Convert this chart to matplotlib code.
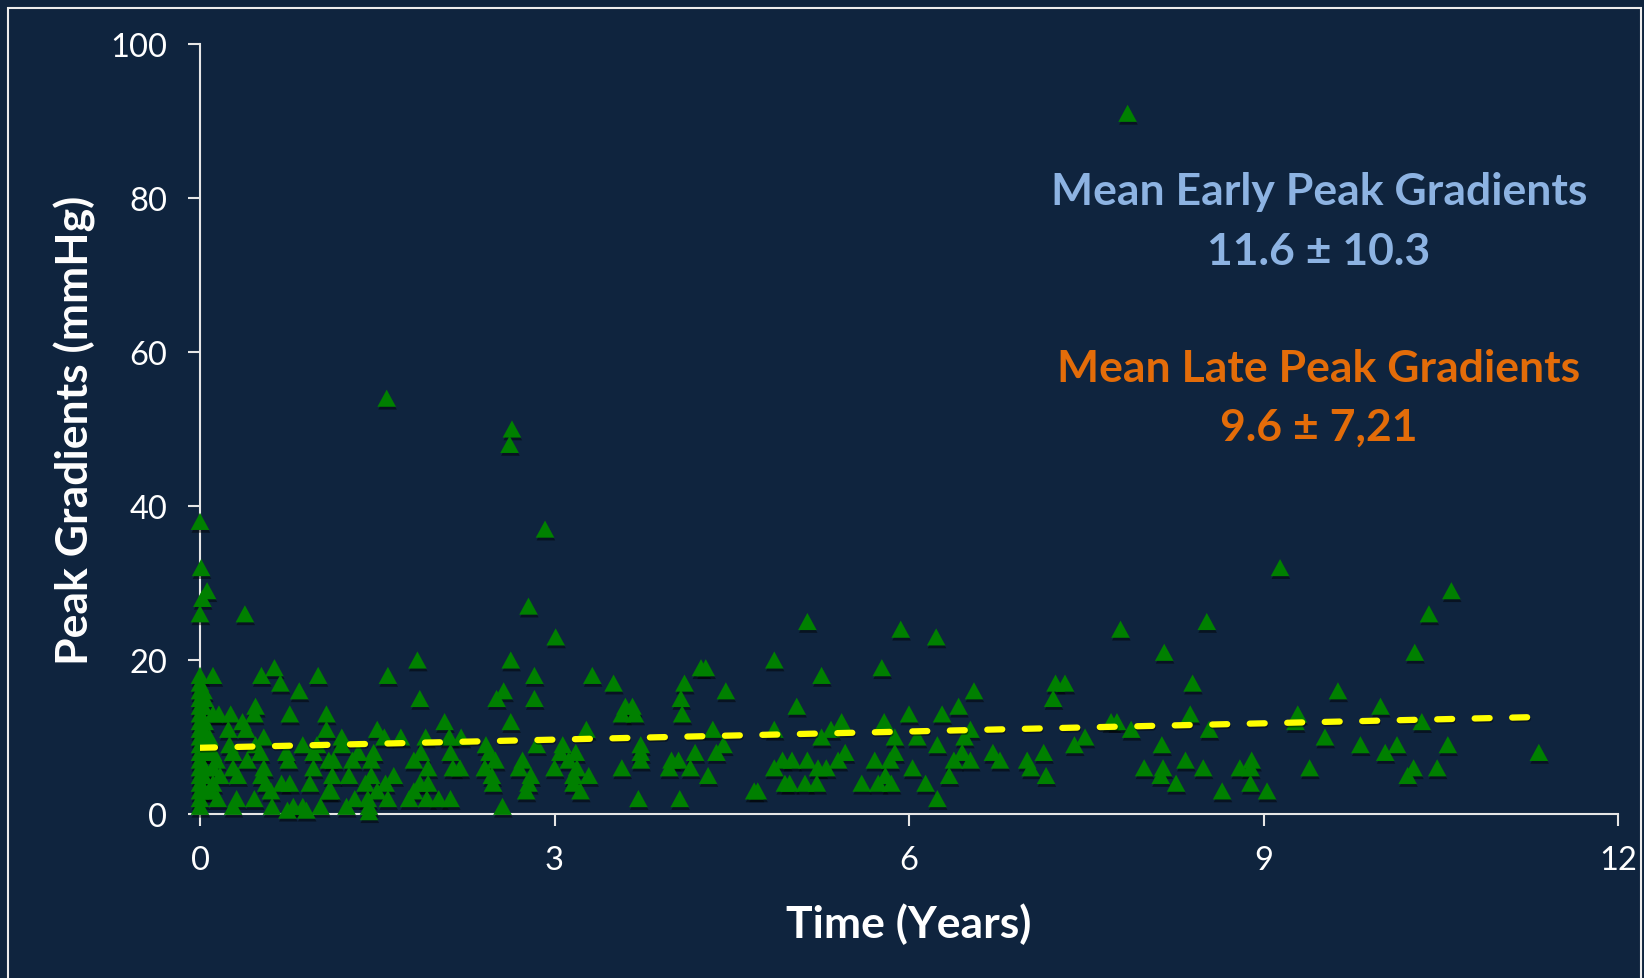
import matplotlib
matplotlib.use("Agg")
import matplotlib.pyplot as plt
import matplotlib.patheffects as pe
from matplotlib.patches import Rectangle
from matplotlib.path import Path

# Follow-up measurements: time since implant (years) and peak gradient (mmHg)
years_baseline = [0.0, 0.01, 0.06, 0.02, 0.0, 0.0, 0.0, 0.0, 0.0, 0.0, 0.0, 0.0,
                  0.0, 0.0, 0.0, 0.0, 0.0, 0.0, 0.0, 0.0, 0.0, 0.0, 0.0,
                  0.03, 0.04, 0.03, 0.04, 0.03, 0.04, 0.03, 0.04, 0.03, 0.04]
grad_baseline = [38, 32, 29, 28, 26, 18, 17, 16, 15, 14, 13, 12,
                 11, 10, 9, 8, 7, 6, 5, 4, 3, 2, 1,
                 16, 15, 14, 12, 11, 9, 8, 6, 5, 3]

years_first = [0.38, 0.63, 0.11, 0.52, 1.00, 0.68, 0.84, 0.47, 0.76, 1.07, 0.11, 0.16,
               0.26, 0.46, 0.36, 1.07, 0.24, 0.39, 0.54, 0.08, 0.87, 0.99, 0.25, 0.47,
               0.73, 0.96, 0.28, 0.51, 0.11, 0.75, 1.09, 0.14, 0.40, 0.54, 0.96, 0.11,
               0.28, 0.17, 0.32, 0.52, 0.56, 0.69, 0.76, 0.93, 0.11, 0.10, 0.15, 0.31,
               0.46, 1.09, 0.60, 0.28, 0.61, 0.74, 0.79, 0.87, 0.90, 1.02]
grad_first = [26, 19, 18, 18, 18, 17, 16, 14, 13, 13, 13, 13,
              13, 13, 12, 11, 11, 11, 10, 10, 9, 9, 9, 9,
              8, 8, 8, 8, 8, 7, 7, 7, 7, 6, 6, 6,
              6, 5, 5, 5, 4, 4, 4, 4, 4, 3, 2, 2,
              2, 3, 3, 1, 1, 0.5, 1, 1, 0.5, 1]

years_second = [2.78, 1.84, 2.63, 1.59, 2.83, 1.86, 2.57, 2.51, 2.83, 2.63, 2.07, 1.50,
                1.70, 1.20, 1.56, 1.91, 2.11, 2.21, 2.42, 2.85, 1.20, 1.47, 1.34, 1.87,
                2.12, 2.45, 1.13, 1.29, 1.45, 1.81, 2.14, 2.20, 2.50, 2.73, 1.93, 1.12,
                1.26, 1.45, 1.64, 2.41, 2.47, 2.70, 2.80, 1.40, 1.57, 1.86, 1.93, 2.48,
                2.78, 1.11, 1.50, 1.81, 2.76, 1.31, 1.42, 1.59, 1.77, 1.92, 2.02, 2.12,
                1.24, 1.43, 1.43, 2.56, 1.58, 2.64, 2.62, 2.92]
grad_second = [27, 20, 20, 18, 18, 15, 16, 15, 15, 12, 12, 11,
               10, 10, 10, 10, 10, 10, 9, 9, 9, 8, 8, 8,
               8, 8, 7, 7, 7, 7, 6, 6, 7, 7, 6, 5,
               5, 5, 5, 6, 5, 6, 5, 4, 4, 4, 4, 4,
               4, 3, 3, 3, 3, 2, 2, 2, 2, 2, 2, 2,
               1, 1, 0.3, 1, 54, 50, 48, 37]

years_third = [3.01, 4.86, 4.24, 4.28, 3.32, 3.50, 4.10, 4.45, 4.07, 4.08, 3.60, 3.66,
               3.57, 3.68, 3.27, 4.34, 4.86, 3.07, 3.73, 4.43, 3.05, 3.18, 3.73, 3.99,
               4.05, 4.19, 4.37, 4.93, 3.12, 3.73, 3.00, 3.19, 3.57, 3.97, 4.15, 4.86,
               3.16, 3.29, 4.30, 3.16, 4.95, 3.22, 4.69, 4.72, 3.71, 4.06]
grad_third = [23, 20, 19, 19, 18, 17, 17, 16, 15, 13, 14, 14,
              13, 13, 11, 11, 11, 9, 9, 9, 8, 8, 8, 7,
              7, 8, 8, 7, 7, 7, 6, 6, 6, 6, 6, 6,
              5, 5, 5, 4, 4, 3, 3, 3, 2, 2]

years_fourth = [5.14, 5.93, 6.23, 5.77, 5.26, 5.05, 6.55, 6.42, 6.00, 6.28, 5.43, 5.79,
                5.34, 6.52, 5.26, 5.88, 6.07, 6.47, 6.24, 5.46, 5.88, 6.45, 6.71, 5.01,
                5.14, 5.40, 5.71, 5.84, 6.38, 6.52, 6.77, 7.00, 5.23, 5.30, 6.03, 7.03,
                5.80, 6.34, 4.99, 5.12, 5.22, 5.60, 5.74, 5.85, 6.14, 6.24]
grad_fourth = [25, 24, 23, 19, 18, 14, 16, 14, 13, 13, 12, 12,
               11, 11, 10, 10, 10, 10, 9, 8, 8, 8, 8, 7,
               7, 7, 7, 7, 7, 7, 7, 7, 6, 6, 6, 6,
               5, 5, 4, 4, 4, 4, 4, 4, 4, 2]

years_fifth = [7.85, 9.14, 8.52, 7.79, 8.16, 7.24, 7.32, 7.22, 8.40, 8.38, 7.71, 7.76,
               7.88, 8.54, 7.49, 7.40, 7.14, 8.14, 7.16, 7.99, 8.15, 8.13, 8.34, 8.49,
               8.26, 8.65, 8.80, 8.90, 8.89, 8.89, 9.03]
grad_fifth = [91, 32, 25, 24, 21, 17, 17, 15, 17, 13, 12, 12,
              11, 11, 10, 9, 8, 9, 5, 6, 6, 5, 7, 6,
              4, 3, 6, 7, 6, 4, 3]

years_late = [10.59, 10.40, 10.28, 9.63, 9.99, 9.29, 9.27, 10.34, 9.52, 9.82, 10.13, 10.56,
              10.03, 11.33, 9.39, 10.27, 10.47, 10.22]
grad_late = [29, 26, 21, 16, 14, 13, 12, 12, 10, 9, 9, 9,
             8, 8, 6, 6, 6, 5]

years = (years_baseline + years_first + years_second + years_third
         + years_fourth + years_fifth + years_late)
gradients = (grad_baseline + grad_first + grad_second + grad_third
             + grad_fourth + grad_fifth + grad_late)

# Linear trend of peak gradient over time
trend_years = [0.0, 11.33]
trend_gradients = [8.6, 12.6]

x_ticks = [0, 3, 6, 9, 12]
y_ticks = [0, 20, 40, 60, 80, 100]

early_title = "Mean Early Peak Gradients"
early_value = "11.6 ± 10.3"
late_title = "Mean Late Peak Gradients"
late_value = "9.6 ± 7,21"

BG = "#0F243E"
FONT = ["Lato", "DejaVu Sans"]

plt.rcParams["font.family"] = FONT

fig = plt.figure(figsize=(16.44, 9.79), dpi=100)
fig.patch.set_facecolor(BG)
ax = fig.add_axes([200 / 1644, 164 / 979, 1418 / 1644, 770 / 979])
ax.set_facecolor(BG)

# slightly flattened triangle marker
tri = Path([(0, 0.92), (-1, -0.92), (1, -0.92), (0, 0.92)],
           [Path.MOVETO, Path.LINETO, Path.LINETO, Path.CLOSEPOLY])

shadow = [pe.SimplePatchShadow(offset=(0.6, -2.0), shadow_rgbFace="black", alpha=0.45),
          pe.Normal()]

sc = ax.scatter(years, gradients, marker=tri, s=180, color="#008000",
                linewidths=0, zorder=3, clip_on=False)
sc.set_path_effects(shadow)

line, = ax.plot(trend_years, trend_gradients, color="#FFFF00", lw=4.5,
                dashes=(2.4, 3.6), dash_capstyle="round", zorder=4)
line.set_path_effects([pe.SimpleLineShadow(offset=(0.5, -1.2), shadow_color="black", alpha=0.4),
                       pe.Normal()])

ax.set_xlim(0, 12)
ax.set_ylim(0, 100)
ax.set_xticks(x_ticks)
ax.set_yticks(y_ticks)
ax.set_xticklabels([str(v) for v in x_ticks])
ax.set_yticklabels([str(v) for v in y_ticks])

for side in ("top", "right"):
    ax.spines[side].set_visible(False)
for side in ("left", "bottom"):
    ax.spines[side].set_color("#E6E6E6")
    ax.spines[side].set_linewidth(1.5)

ax.tick_params(axis="both", colors="#E6E6E6", length=8.6, width=1.5,
               direction="out", labelsize=23.5, labelcolor="white")
ax.tick_params(axis="y", pad=15)
ax.tick_params(axis="x", pad=14)

ax.set_ylabel("Peak Gradients (mmHg)", fontsize=32, fontweight="bold", color="white")
ax.set_xlabel("Time (Years)", fontsize=32, fontweight="bold", color="white")
ax.yaxis.set_label_coords(-0.088, 0.5)
ax.xaxis.set_label_coords(0.5, -0.1416)
ax.xaxis.label.set_va("center")
ax.yaxis.label.set_va("center")

tx = 0.789
ax.text(tx, 0.7916, early_title, transform=ax.transAxes, ha="center", va="baseline",
        fontsize=32, fontweight="bold", color="#8DB3E2")
ax.text(tx, 0.7139, early_value, transform=ax.transAxes, ha="center", va="baseline",
        fontsize=32, fontweight="bold", color="#8DB3E2")
ax.text(tx, 0.5629, late_title, transform=ax.transAxes, ha="center", va="baseline",
        fontsize=32, fontweight="bold", color="#E36C09")
ax.text(tx, 0.4866, late_value, transform=ax.transAxes, ha="center", va="baseline",
        fontsize=32, fontweight="bold", color="#E36C09")

# slide frame
fig.patches.append(Rectangle((8 / 1644, -0.02), 1633 / 1644, 1 - 9 / 979 + 0.02,
                             transform=fig.transFigure, fill=False,
                             edgecolor="#EDEDED", linewidth=1.5))

fig.savefig("out.png", dpi=100, facecolor=BG)
